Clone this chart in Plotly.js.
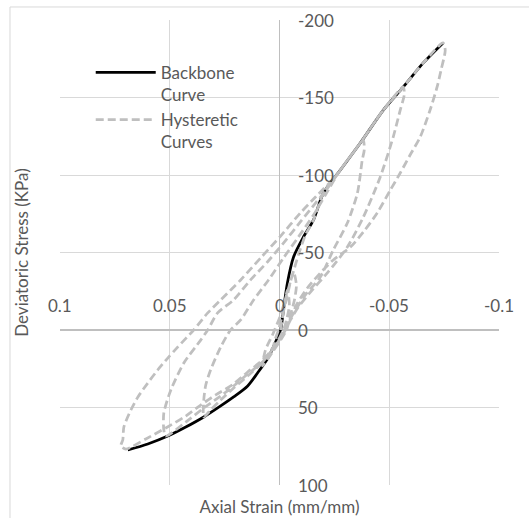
<!DOCTYPE html>
<html>
<head>
<meta charset="utf-8">
<script src="https://cdn.plot.ly/plotly-3.0.1.min.js"></script>
<style>html,body{margin:0;padding:0;background:#fff;}#chart{width:529px;height:518px;}</style>
</head>
<body>
<div id="chart"></div>
<script>
// ---- data (strain in mm/mm, stress in kPa) ----
const backboneStrain = [0.0691, 0.0600, 0.0509, 0.0427, 0.0345, 0.0268, 0.0209, 0.0145, 0.0100, 0.0050, 0.0014, -0.0005, -0.0018, -0.0036, -0.0064, -0.0109, -0.0155, -0.0200, -0.0277, -0.0368, -0.0473, -0.0564, -0.0655, -0.0745];
const backboneStress = [77.4, 73.5, 68.4, 62.6, 56.1, 49.0, 43.2, 36.1, 27.7, 17.4, 6.5, 0, -12.9, -30.3, -47.1, -60.0, -71.0, -88.4, -103.2, -120.6, -141.9, -156.8, -172.3, -185.2];

const smallCycleStrain = [-0.0005, -0.0018, -0.0036, -0.0045, -0.0032, -0.0018, 0.0005, 0.0032, 0.0023, 0.0005, -0.0014, -0.0036, -0.0064, -0.0077, -0.0068, -0.0050, -0.0032, -0.0005, 0.0032, 0.0077, 0.0064, 0.0032, -0.0005, -0.0032, -0.0059, -0.0086, -0.0118, -0.0155, -0.0200, -0.0277, -0.0368, -0.0382];
const smallCycleStress = [0, -11.6, -25.8, -16.1, -6.5, 0, 6.5, 14.2, 7.7, 0, -9.7, -22.6, -37.4, -29.0, -19.4, -9.7, 0, 6.5, 14.2, 23.2, 12.9, 3.2, -9.7, -22.6, -35.5, -48.4, -61.3, -71.0, -88.4, -103.2, -120.6, -122.6];

const cycle3Strain = [-0.0386, -0.0377, -0.0355, -0.0309, -0.0245, -0.0186, -0.0118, -0.0073, -0.0041, -0.0023, 0, 0.0032, 0.0077, 0.0145, 0.0209, 0.0268, 0.0314, 0.0345, 0.0345, 0.0336, 0.0314, 0.0268, 0.0223, 0.0177, 0.0118, 0.0050, -0.0018, -0.0086, -0.0155, -0.0209, -0.0277, -0.0368, -0.0473, -0.0564];
const cycle3Stress = [-116.1, -109.7, -88.4, -69.0, -51.6, -34.2, -22.6, -12.9, -5.2, 0, 5.2, 11.6, 20.6, 29.7, 37.4, 45.2, 51.6, 56.1, 45.2, 35.5, 25.8, 11.0, 0, -6.5, -19.4, -32.3, -46.5, -60.0, -74.2, -87.1, -103.2, -120.6, -141.9, -156.8];

const cycle2Strain = [-0.0568, -0.0550, -0.0518, -0.0459, -0.0382, -0.0309, -0.0218, -0.0141, -0.0086, -0.0050, -0.0027, -0.0005, 0.0027, 0.0077, 0.0145, 0.0209, 0.0268, 0.0345, 0.0427, 0.0518, 0.0527, 0.0527, 0.0495, 0.0436, 0.0359, 0.0327, 0.0282, 0.0209, 0.0132, 0.0055, -0.0018, -0.0095, -0.0164, -0.0223, -0.0277, -0.0368, -0.0473, -0.0564, -0.0655, -0.0745];
const cycle2Stress = [-151.6, -141.9, -124.5, -98.7, -72.9, -53.5, -36.8, -24.5, -14.8, -6.5, 0, 5.2, 11.6, 20.6, 28.4, 36.1, 42.6, 50.3, 59.4, 68.4, 64.5, 53.5, 38.7, 21.3, 6.5, 0, -11.0, -19.4, -32.3, -43.9, -56.1, -69.7, -81.9, -92.3, -103.2, -120.6, -141.9, -156.8, -172.3, -185.2];

const cycle1Strain = [-0.0755, -0.0736, -0.0718, -0.0686, -0.0641, -0.0595, -0.0550, -0.0505, -0.0445, -0.0382, -0.0323, -0.0245, -0.0186, -0.0127, -0.0082, -0.0050, -0.0027, -0.0005, 0.0027, 0.0077, 0.0145, 0.0209, 0.0291, 0.0359, 0.0427, 0.0518, 0.0609, 0.0700, 0.0723, 0.0714, 0.0709, 0.0677, 0.0645, 0.0600, 0.0555, 0.0509, 0.0464, 0.0391, 0.0327, 0.0268, 0.0177, 0.0086, -0.0005, -0.0095, -0.0164, -0.0232];
const cycle1Stress = [-180.6, -167.7, -156.8, -141.9, -124.5, -112.9, -101.3, -90.3, -75.5, -63.2, -53.5, -45.2, -36.8, -27.1, -17.4, -7.7, 0, 5.2, 11.6, 19.4, 27.1, 34.8, 41.9, 48.4, 55.5, 63.2, 70.3, 76.8, 74.8, 71.0, 62.6, 51.6, 43.2, 34.2, 25.8, 18.1, 11.0, 0, -11.0, -19.4, -32.3, -46.5, -60.6, -75.5, -85.8, -95.5];

const xTickVals = [0.1, 0.05, 0, -0.05, -0.1];
const xTickText = ['0.1', '0.05', '0', '-0.05', '-0.1'];
const yTickVals = [-200, -150, -100, -50, 0, 50, 100];
const yTickText = ['-200', '-150', '-100', '-50', '0', '50', '100'];

// ---- build ----
const hystStrain = smallCycleStrain.concat(cycle3Strain, cycle2Strain, cycle1Strain);
const hystStress = smallCycleStress.concat(cycle3Stress, cycle2Stress, cycle1Stress);

const FONT = 'Lato, "Open Sans", sans-serif';
const TXT = '#595959';

const traces = [
  {x: backboneStrain, y: backboneStress, type: 'scatter', mode: 'lines', name: 'Backbone<br>Curve',
   line: {color: '#000000', width: 2.75, shape: 'spline', smoothing: 0.8}},
  {x: hystStrain, y: hystStress, type: 'scatter', mode: 'lines', name: 'Hysteretic<br>Curves',
   line: {color: '#bfbfbf', width: 2.75, dash: '8px,4px', shape: 'spline', smoothing: 0.7}}
];

const annotations = [];
xTickVals.forEach((v, i) => annotations.push({x: v, y: 0, xref: 'x', yref: 'y', text: xTickText[i],
  showarrow: false, yanchor: 'middle', xanchor: 'center', yshift: 25, font: {family: FONT, size: 17, color: TXT}}));
yTickVals.forEach((v, i) => annotations.push({x: 0, y: v, xref: 'x', yref: 'y', text: yTickText[i],
  showarrow: false, yanchor: 'middle', xanchor: 'left', xshift: 16, font: {family: FONT, size: 17, color: TXT}}));

const layout = {
  width: 529, height: 518,
  margin: {l: 60, r: 30, t: 20, b: 33},
  paper_bgcolor: '#ffffff', plot_bgcolor: '#ffffff',
  font: {family: FONT, size: 17, color: TXT},
  showlegend: true,
  legend: {x: 0.07, y: 0.925, xanchor: 'left', yanchor: 'top', bgcolor: 'rgba(0,0,0,0)',
           font: {family: FONT, size: 17, color: TXT}, valign: 'top', itemwidth: 60, tracegroupgap: 2},
  xaxis: {range: [0.1, -0.1], tickvals: xTickVals, showticklabels: false, ticks: '',
          showgrid: true, gridcolor: '#d9d9d9', gridwidth: 1,
          zeroline: true, zerolinecolor: '#bfbfbf', zerolinewidth: 1.5, showline: false,
          title: {text: 'Axial Strain (mm/mm)', standoff: 16, font: {family: FONT, size: 17, color: TXT}}},
  yaxis: {range: [100, -200], tickvals: yTickVals, showticklabels: false, ticks: '',
          showgrid: true, gridcolor: '#d9d9d9', gridwidth: 1,
          zeroline: true, zerolinecolor: '#bfbfbf', zerolinewidth: 1.5, showline: false,
          title: {text: 'Deviatoric Stress (KPa)', standoff: 26, font: {family: FONT, size: 17, color: TXT}}},
  annotations: annotations,
  shapes: [{type: 'rect', xref: 'paper', yref: 'paper', x0: -0.1139, x1: 1.1, y0: -0.12, y1: 1.028,
            line: {color: '#d9d9d9', width: 1}, fillcolor: 'rgba(0,0,0,0)', layer: 'below'}]
};

Plotly.newPlot('chart', traces, layout, {displayModeBar: false, staticPlot: true});
</script>
</body>
</html>
